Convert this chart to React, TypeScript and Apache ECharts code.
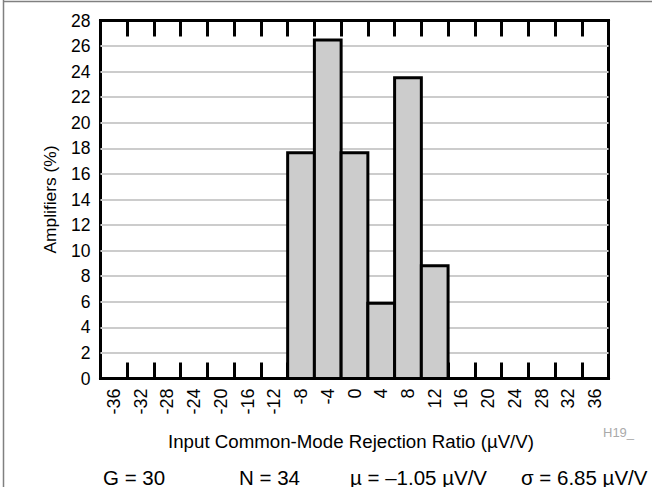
import React, { useEffect, useRef } from "react";
import * as echarts from "echarts";

const categories = ["-36", "-32", "-28", "-24", "-20", "-16", "-12", "-8", "-4", "0", "4", "8", "12", "16", "20", "24", "28", "32", "36"];
const amplifiersPct = [null, null, null, null, null, null, null, 17.65, 26.47, 17.65, 5.88, 23.53, 8.82, null, null, null, null, null, null];
const yMin = 0;
const yMax = 28;
const yStep = 2;
const xTitle = "Input Common-Mode Rejection Ratio (\u00b5V/V)";
const yTitle = "Amplifiers (%)";
const stats = ["G = 30", "N = 34", "\u00b5 = \u20131.05 \u00b5V/V", "\u03c3 = 6.85 \u00b5V/V"];
const statX = [103, 239, 350, 521];
const FONT = "'Liberation Sans', Arial, sans-serif";

export default function App() {
  const ref = useRef<HTMLDivElement>(null);
  useEffect(() => {
    document.body.style.margin = "0";
    const chart = echarts.init(ref.current!, null, { renderer: "svg" });
    const gridLeft = 100.5;
    const gridTop = 20.5;
    const gridW = 508;
    const gridH = 358;
    const barData = categories
      .map((c, i) => [i, amplifiersPct[i]])
      .filter((d) => d[1] !== null);
    chart.setOption({
      animation: false,
      backgroundColor: "#fff",
      textStyle: { fontFamily: FONT },
      grid: {
        left: gridLeft,
        top: gridTop,
        width: gridW,
        height: gridH,
        show: true,
        borderColor: "#000",
        borderWidth: 3,
        backgroundColor: "#fff",
      },
      xAxis: [
        {
          type: "category",
          data: categories,
          position: "bottom",
          boundaryGap: true,
          axisLine: { show: true, lineStyle: { color: "#000", width: 3 } },
          axisTick: { show: true, inside: true, length: 16, interval: 0, lineStyle: { color: "#000", width: 3 } },
          axisLabel: { interval: 0, rotate: 90, fontSize: 18, color: "#000", margin: 10, fontFamily: FONT },
          splitLine: { show: false },
        },
        {
          type: "category",
          data: categories,
          position: "top",
          boundaryGap: true,
          axisLine: { show: true, lineStyle: { color: "#000", width: 3 } },
          axisTick: { show: true, inside: true, length: 16, interval: 0, lineStyle: { color: "#000", width: 3 } },
          axisLabel: { show: false },
          splitLine: { show: false },
        },
      ],
      yAxis: {
        type: "value",
        min: yMin,
        max: yMax,
        interval: yStep,
        axisLine: { show: false },
        axisTick: { show: false },
        axisLabel: { fontSize: 17.5, color: "#000", margin: 10, fontFamily: FONT },
        splitLine: { show: true, lineStyle: { color: "#cccccc", width: 2 } },
      },
      series: [
        {
          type: "custom",
          xAxisIndex: 0,
          yAxisIndex: 0,
          data: barData,
          z: 2,
          renderItem: (params: any, api: any) => {
            const idx = api.value(0);
            const val = api.value(1);
            const top = api.coord([idx, val]);
            const bottom = api.coord([idx, 0]);
            const bw = api.size([1, 0])[0];
            return {
              type: "rect",
              shape: { x: top[0] - bw / 2, y: top[1], width: bw, height: bottom[1] - top[1] },
              style: { fill: "#cccccc", stroke: "#000", lineWidth: 3 },
            };
          },
        },
      ],
      graphic: [
        { type: "line", shape: { x1: 3.5, y1: 0, x2: 3.5, y2: 487 }, style: { stroke: "#808080", lineWidth: 1.5 } },
        { type: "line", shape: { x1: 3, y1: 1.5, x2: 652, y2: 1.5 }, style: { stroke: "#808080", lineWidth: 1.5 } },
        {
          type: "text",
          x: 50,
          y: 199.5,
          rotation: Math.PI / 2,
          style: { text: yTitle, fontSize: 17.4, fill: "#000", fontFamily: FONT, align: "center", verticalAlign: "middle" },
        },
        {
          type: "text",
          x: 351,
          y: 441,
          style: { text: xTitle, fontSize: 18.7, fill: "#000", fontFamily: FONT, align: "center", verticalAlign: "middle" },
        },
        {
          type: "text",
          x: 603,
          y: 432,
          style: { text: "H19_", fontSize: 13, fill: "#aaaaaa", fontFamily: FONT, align: "left", verticalAlign: "middle" },
        },
        ...stats.map((s, i) => ({
          type: "text",
          x: statX[i],
          y: 477,
          style: { text: s, fontSize: 20.5, fill: "#000", fontFamily: FONT, align: "left", verticalAlign: "middle" },
        })),
      ],
    });
    return () => chart.dispose();
  }, []);
  return <div ref={ref} style={{ width: 652, height: 487 }} />;
}
